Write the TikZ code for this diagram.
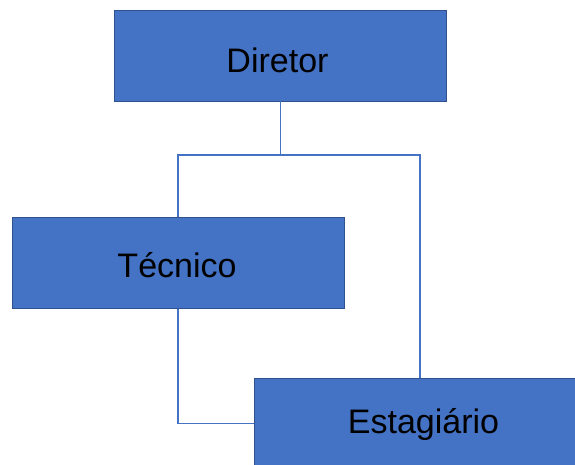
\documentclass[tikz,border=0pt]{standalone}
\usepackage{fontspec}
\setmainfont{Liberation Sans}
\definecolor{boxblue}{HTML}{4472C4}
\definecolor{boxedge}{HTML}{2F528F}
\definecolor{linkblue}{HTML}{4472C4}
\begin{document}
\begin{tikzpicture}[x=1pt,y=-1pt,
  orgbox/.style={draw=boxedge,line width=0.8pt,fill=boxblue,minimum width=332pt,minimum height=91pt,inner sep=0pt},
  lbl/.style={anchor=base,inner sep=0pt,font=\fontsize{34}{38}\selectfont,text=black},
  link/.style={draw=linkblue,line width=1.5pt}]
\useasboundingbox (0,0) rectangle (575,465);
\begin{scope}
\clip (0,0) rectangle (575,465);
\node[orgbox] (dir) at (280.5,55.5) {};
\node[orgbox] (tec) at (178,263) {};
\node[orgbox] (est) at (420,423.5) {};
\node[lbl] (dirt) at (277.5,73) {Diretor};
\node[lbl] (tect) at (177,277) {Técnico};
\node[lbl] (estt) at (423.5,433) {Estagiário};
\coordinate (split) at (280.5,155);
\draw[link] (dir.south) -- (split);
\draw[link] (tec.north) |- (split) -| (est.north);
\draw[link] (tec.south) |- (est.west);
\end{scope}
\end{tikzpicture}
\end{document}
